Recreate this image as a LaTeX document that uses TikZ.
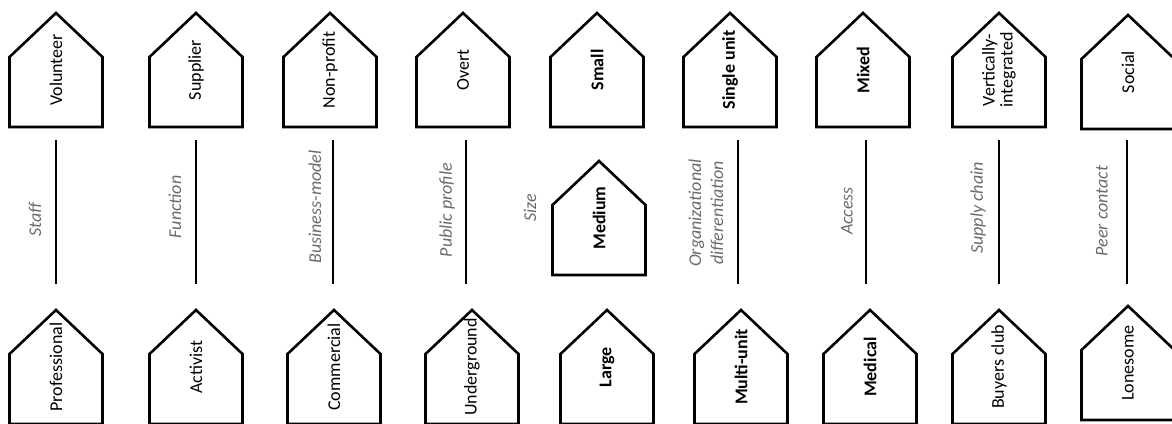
\documentclass[tikz,border=0pt]{standalone}
\usepackage{fontspec}
\setmainfont{Carlito}
\usetikzlibrary{calc}
\tikzset{
    hedge/.style={draw=black, line width=2.6pt, line join=miter},
    hlabel/.style={rotate=90, inner sep=0pt, align=center,
                   font=\fontsize{18}{18}\selectfont},
    hbold/.style={font=\fontsize{18}{18}\selectfont\bfseries},
    alabel/.style={rotate=90, inner sep=0pt, align=center, text=black!58,
                   font=\fontsize{18}{22}\selectfont\itshape},
    axis/.style={draw=black, line width=2pt}
}
% house outline drawn round its (rotated) label
\newcommand{\hut}[4][]{%
  \node[hlabel,#1] (#2) at (#3) {#4};
  \draw[hedge] ([yshift=57pt]#2.center) -- ++(46.5pt,-44pt) -- ++(0pt,-70pt)
     -- ++(-93pt,0pt) -- ++(0pt,70pt) -- cycle;
}

\begin{document}
\begin{tikzpicture}[x=1pt, y=-1pt]
\useasboundingbox (0,0) rectangle (1172,423);
\clip (0,0) rectangle (1172,423);

% ── Top row ───────────────────────────────────────────────────────────
\hut{vol}{56,70}{Volunteer}
\hut{sup}{196,70}{Supplier}
\hut{nonp}{330,70}{Non-profit}
\hut{overt}{463,70}{Overt}
\hut[hbold]{small}{597,70}{Small}
\hut[hbold]{single}{730,70}{Single unit}
\hut[hbold]{mixed}{863,70}{Mixed}
\hut{vert}{999,70}{Vertically-\\integrated}
\hut{social}{1128,72}{Social}

% ── Axes ──────────────────────────────────────────────────────────────
\coordinate (staffT) at (56,140);   \coordinate (staffB) at (56,284);
\coordinate (funcT)  at (196,140);  \coordinate (funcB)  at (196,284);
\coordinate (busT)   at (333,140);  \coordinate (busB)   at (333,284);
\coordinate (pubT)   at (466,140);  \coordinate (pubB)   at (466,284);
\coordinate (orgT)   at (738,140);  \coordinate (orgB)   at (738,284);
\coordinate (accT)   at (866,140);  \coordinate (accB)   at (866,284);
\coordinate (supT)   at (999,140);  \coordinate (supB)   at (999,284);
\coordinate (peerT)  at (1127,140); \coordinate (peerB)  at (1127,284);

\draw[axis] (staffT) -- (staffB);
\draw[axis] (funcT)  -- (funcB);
\draw[axis] (busT)   -- (busB);
\draw[axis] (pubT)   -- (pubB);
\draw[axis] (orgT)   -- (orgB);
\draw[axis] (accT)   -- (accB);
\draw[axis] (supT)   -- (supB);
\draw[axis] (peerT)  -- (peerB);

\node[alabel] (staff) at (35,220)   {Staff};
\node[alabel] (func)  at (175,207)  {Function};
\node[alabel] (bus)   at (315,207)  {Business-model};
\node[alabel] (pub)   at (447,210)  {Public profile};
\node[alabel] (size)  at (530,208)  {Size};
\node[alabel] (org)   at (706,213)  {Organizational\\differentiation};
\node[alabel] (acc)   at (847,211)  {Access};
\node[alabel] (supc)  at (978,208)  {Supply chain};
\node[alabel] (peer)  at (1102,211) {Peer contact};

\hut[hbold]{medium}{599,218}{Medium}

% ── Bottom row ────────────────────────────────────────────────────────
\hut{prof}{56,367}{Professional}
\hut{act}{196,367}{Activist}
\hut{comm}{334,367}{Commercial}
\hut{under}{472,367}{Underground}
\hut[hbold]{large}{607,367}{Large}
\hut[hbold]{multi}{741,367}{Multi-unit}
\hut[hbold]{medical}{870,367}{Medical}
\hut{buyers}{999,367}{Buyers club}
\hut{lone}{1128,363}{Lonesome}
\end{tikzpicture}
\end{document}
